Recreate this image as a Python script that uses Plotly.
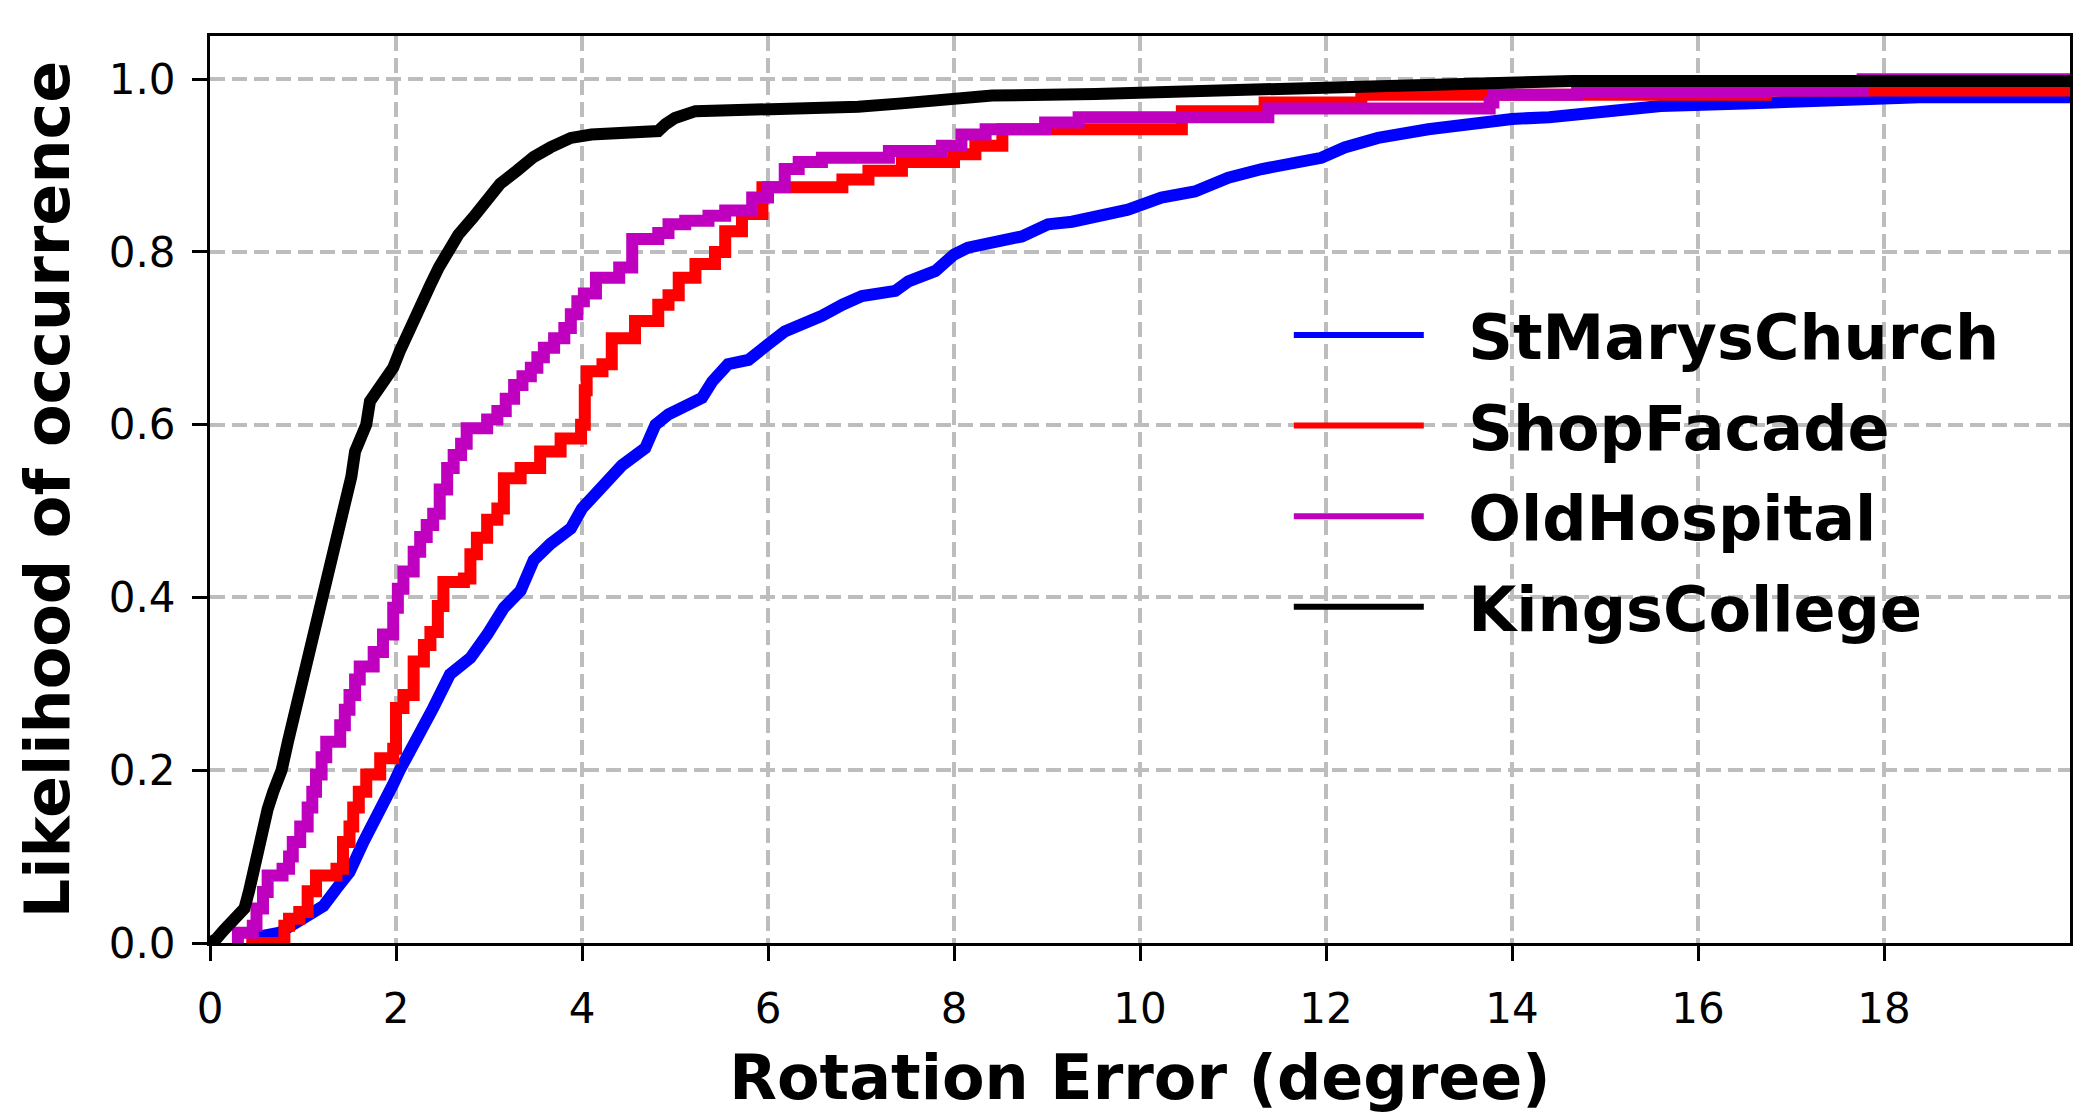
import plotly.graph_objects as go

# ---------------- data ----------------
names = ["StMarysChurch", "ShopFacade", "OldHospital", "KingsCollege"]
colors = ["#0000ff", "#ff0000", "#bf00bf", "#000000"]

blue_x = [0.53, 0.55, 0.75, 1.0, 1.22, 1.36, 1.5, 1.65, 1.86, 1.97, 2.04, 2.22, 2.4, 2.58, 2.8, 2.98,
          3.16, 3.34, 3.48, 3.66, 3.88, 4.0, 4.22, 4.43, 4.68, 4.79, 4.93, 5.11, 5.29, 5.4, 5.57, 5.79,
          5.94, 6.0, 6.18, 6.37, 6.58, 6.8, 7.01, 7.37, 7.51, 7.8, 8.0, 8.15, 8.51, 8.73, 9.01, 9.27,
          9.87, 10.23, 10.59, 10.95, 11.31, 11.95, 12.2, 12.56, 13.1, 13.46, 14.0, 14.4, 15.0, 15.6,
          16.5, 17.46, 18.38, 20.0]
blue_y = [0.0, 0.008, 0.012, 0.028, 0.043, 0.063, 0.082, 0.117, 0.157, 0.184, 0.2, 0.234, 0.272, 0.311, 0.33, 0.357,
          0.388, 0.408, 0.443, 0.462, 0.48, 0.503, 0.53, 0.553, 0.573, 0.6, 0.612, 0.62, 0.631, 0.65, 0.67, 0.675,
          0.685, 0.693, 0.708, 0.716, 0.726, 0.739, 0.749, 0.755, 0.766, 0.778, 0.797, 0.805, 0.813, 0.818, 0.832, 0.835,
          0.849, 0.863, 0.87, 0.886, 0.896, 0.909, 0.921, 0.932, 0.942, 0.948, 0.954, 0.956, 0.964, 0.969,
          0.972, 0.977, 0.979, 0.979]

red_x = [0.39, 0.8, 0.85, 0.96, 1.05, 1.14, 1.36, 1.43, 1.5, 1.54, 1.6, 1.68, 1.83, 1.97, 2.0, 2.08,
         2.19, 2.3, 2.37, 2.45, 2.51, 2.73, 2.8, 2.87, 2.98, 3.09, 3.16, 3.34, 3.55, 3.77, 3.99, 4.03,
         4.05, 4.22, 4.32, 4.57, 4.82, 4.93, 5.04, 5.22, 5.43, 5.54, 5.72, 5.94, 6.8, 7.08, 7.44, 8.0,
         8.23, 8.52, 10.45, 11.34, 12.38, 16.73, 20.0]
red_y = [0.0, 0.02, 0.028, 0.036, 0.06, 0.078, 0.086, 0.117, 0.135, 0.157, 0.175, 0.195, 0.214, 0.225, 0.272, 0.287,
         0.326, 0.345, 0.36, 0.39, 0.418, 0.422, 0.45, 0.469, 0.49, 0.503, 0.538, 0.55, 0.569, 0.584, 0.6, 0.64,
         0.662, 0.67, 0.7, 0.72, 0.739, 0.75, 0.77, 0.786, 0.8, 0.824, 0.844, 0.875, 0.884, 0.894, 0.904, 0.913,
         0.923, 0.942, 0.963, 0.973, 0.982, 0.987, 0.987]

mag_x = [0.26, 0.3, 0.46, 0.5, 0.57, 0.62, 0.78, 0.85, 0.89, 0.97, 1.05, 1.1, 1.14, 1.2, 1.25, 1.4,
         1.45, 1.5, 1.56, 1.61, 1.76, 1.86, 1.97, 2.02, 2.08, 2.19, 2.26, 2.33, 2.4, 2.47, 2.55, 2.62,
         2.7, 2.76, 2.98, 3.09, 3.18, 3.27, 3.36, 3.45, 3.52, 3.59, 3.7, 3.81, 3.88, 3.95, 4.02, 4.15,
         4.4, 4.54, 4.82, 4.93, 5.11, 5.36, 5.54, 5.83, 6.0, 6.18, 6.33, 6.58, 7.3, 7.87, 8.08, 8.34,
         8.98, 9.34, 11.38, 13.76, 13.8, 14.7, 16.7, 17.77, 20.0]
mag_y = [0.0, 0.012, 0.02, 0.04, 0.059, 0.078, 0.086, 0.1, 0.117, 0.135, 0.157, 0.175, 0.195, 0.215, 0.233, 0.252,
         0.27, 0.287, 0.305, 0.32, 0.337, 0.357, 0.388, 0.41, 0.43, 0.453, 0.47, 0.484, 0.497, 0.525, 0.55, 0.565,
         0.578, 0.596, 0.606, 0.616, 0.63, 0.646, 0.656, 0.666, 0.678, 0.689, 0.7, 0.712, 0.728, 0.743, 0.752, 0.77,
         0.782, 0.815, 0.822, 0.832, 0.836, 0.842, 0.848, 0.863, 0.875, 0.896, 0.904, 0.909, 0.917, 0.923, 0.936, 0.942,
         0.95, 0.956, 0.966, 0.973, 0.982, 0.985, 0.987, 1.0, 1.0]

black_x = [0.0, 0.07, 0.15, 0.25, 0.37, 0.42, 0.46, 0.5, 0.55, 0.62, 0.68, 0.77, 0.84, 0.9, 0.96, 1.03,
           1.09, 1.15, 1.2, 1.25, 1.3, 1.36, 1.41, 1.47, 1.52, 1.56, 1.62, 1.68, 1.72, 1.83, 1.97, 2.04,
           2.12, 2.19, 2.26, 2.37, 2.46, 2.55, 2.67, 2.83, 2.96, 3.12, 3.3, 3.48, 3.66, 3.88, 4.1, 4.82,
           4.9, 5.0, 5.22, 6.37, 6.97, 7.44, 7.91, 8.41, 9.52, 11.1, 12.1, 12.7, 14.65, 20.0]
black_y = [0.0, 0.005, 0.015, 0.028, 0.04, 0.06, 0.078, 0.1, 0.132, 0.155, 0.175, 0.2, 0.234, 0.26, 0.29, 0.32,
           0.35, 0.375, 0.4, 0.425, 0.446, 0.47, 0.49, 0.515, 0.54, 0.569, 0.585, 0.6, 0.627, 0.646, 0.666, 0.685,
           0.705, 0.724, 0.743, 0.762, 0.782, 0.8, 0.82, 0.84, 0.86, 0.879, 0.894, 0.91, 0.921, 0.932, 0.936, 0.94,
           0.948, 0.955, 0.963, 0.965, 0.968, 0.972, 0.977, 0.981, 0.983, 0.988, 0.992, 0.995, 0.998, 0.998]

x_ticks = [0, 2, 4, 6, 8, 10, 12, 14, 16, 18]
y_ticks = [0.0, 0.2, 0.4, 0.6, 0.8, 1.0]

series_x = [blue_x, red_x, mag_x, black_x]
series_y = [blue_y, red_y, mag_y, black_y]
shapes_ = ["linear", "hv", "hv", "linear"]

# ---------------- figure ----------------
fig = go.Figure()
for sx, sy, c, shp in zip(series_x, series_y, colors, shapes_):
    fig.add_trace(go.Scatter(x=sx, y=sy, mode="lines", line=dict(color=c, width=12, shape=shp),
                             showlegend=False, hoverinfo="skip"))
# legend entries (thinner sample lines, as in the reference)
for i, (n, c) in enumerate(zip(names, colors)):
    fig.add_trace(go.Scatter(x=[None], y=[None], mode="lines", name=f"&nbsp;&nbsp;<b>{n}</b>",
                             line=dict(color=c, width=6), legendgroup=str(i)))

axis_common = dict(
    showline=True, linecolor="black", linewidth=3, mirror=True,
    ticks="outside", ticklen=15, tickwidth=3, tickcolor="black",
    showgrid=True, gridcolor="#bdbdbd", gridwidth=4, griddash="15px,7px",
    zeroline=False,
    tickfont=dict(family="DejaVu Sans", size=42, color="black"),
)

fig.update_layout(
    width=2092, height=1113,
    margin=dict(l=202, r=30, t=28, b=178),
    paper_bgcolor="white", plot_bgcolor="white",
    font=dict(family="DejaVu Sans", color="black"),
    xaxis=dict(range=[0, 20], tickvals=x_ticks, ticktext=[str(v) for v in x_ticks],
               ticklabelstandoff=12,
               title=dict(text="<b>Rotation Error (degree)</b>",
                          font=dict(family="DejaVu Sans", size=62, color="black"), standoff=24),
               **axis_common),
    yaxis=dict(range=[0, 1.05], tickvals=y_ticks, ticktext=[f"{v:.1f}" for v in y_ticks],
               ticklabelstandoff=8,
               title=dict(text="<b>Likelihood of occurrence</b>",
                          font=dict(family="DejaVu Sans", size=62, color="black"), standoff=20),
               **axis_common),
    legend=dict(x=0.58, y=0.722, xanchor="left", yanchor="top",
                bgcolor="rgba(0,0,0,0)", borderwidth=0,
                font=dict(family="DejaVu Sans", size=62, color="black"),
                itemwidth=130, tracegroupgap=7),
)

fig.write_html("out.html")
